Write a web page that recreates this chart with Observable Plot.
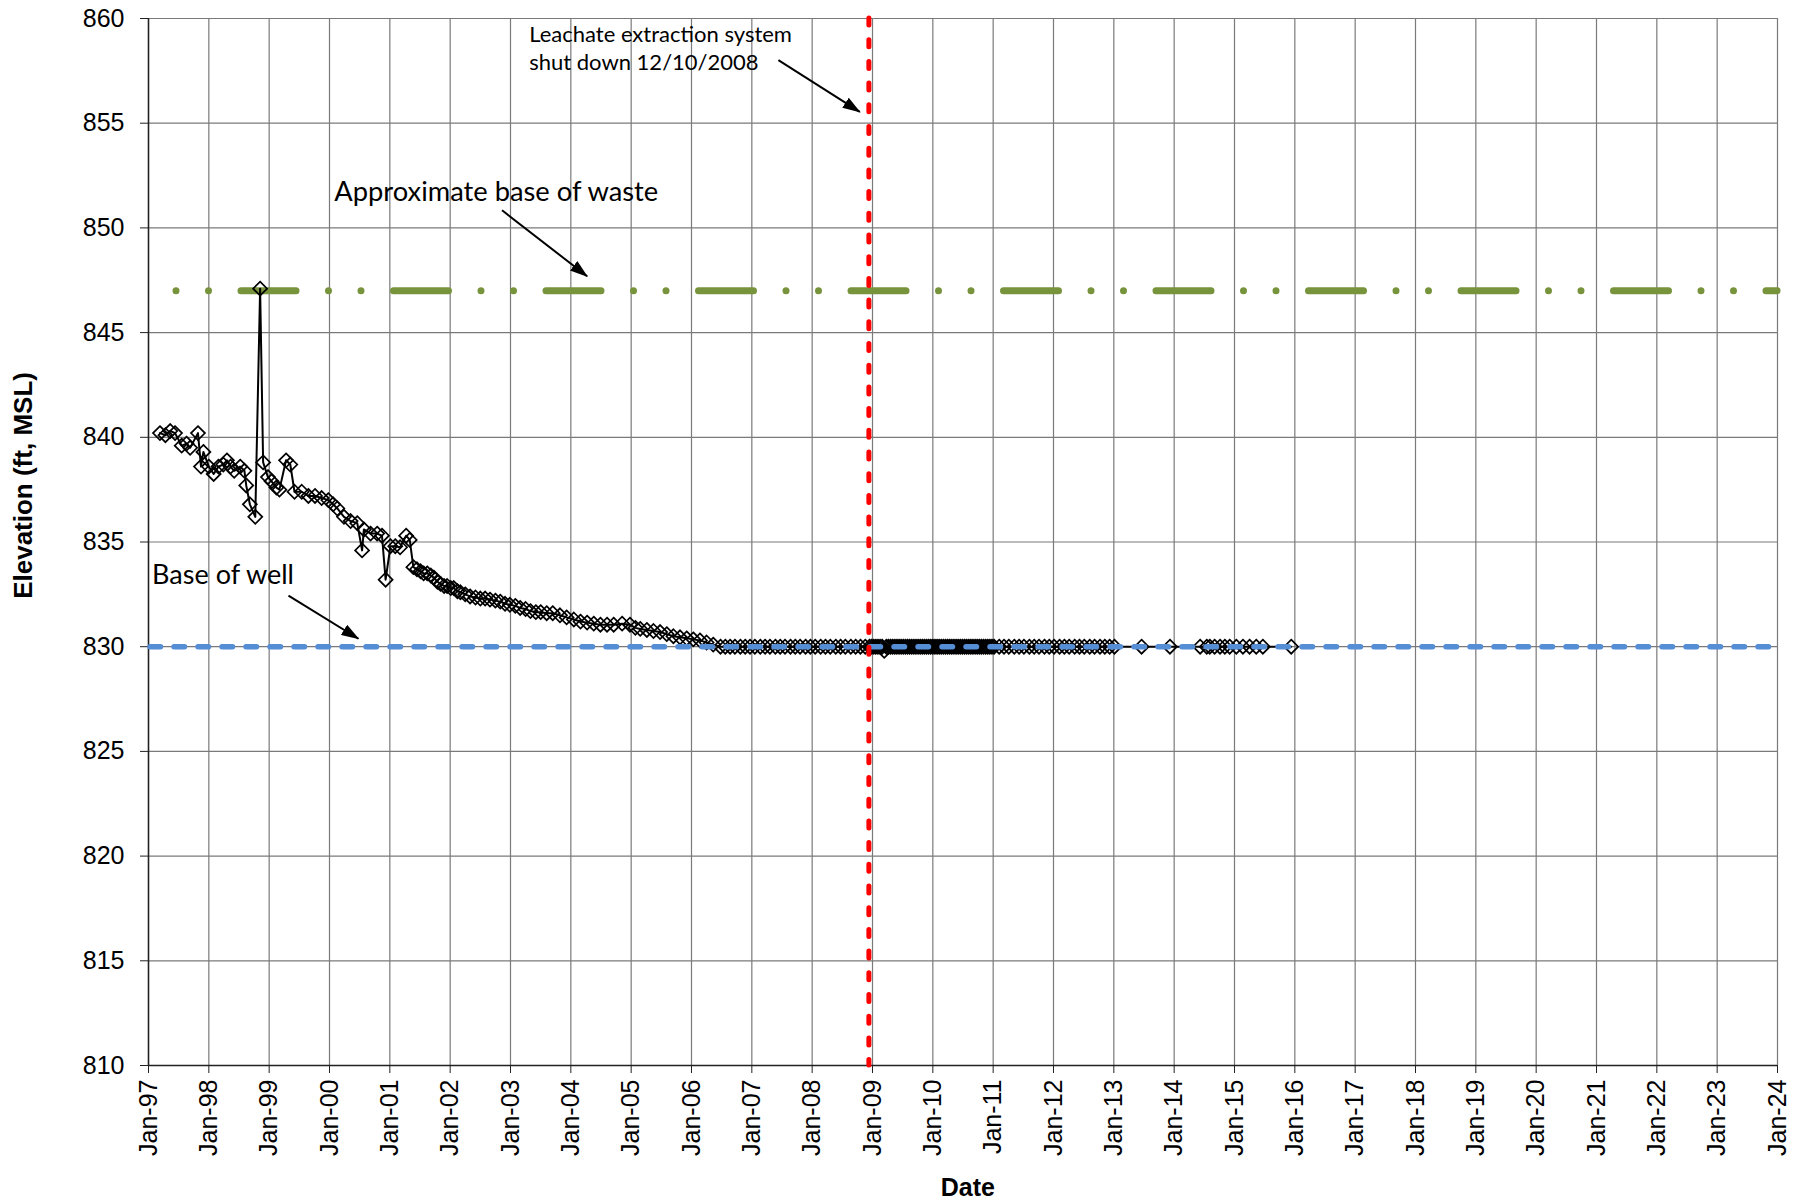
<!DOCTYPE html>
<html><head><meta charset="utf-8">
<script src="https://cdn.jsdelivr.net/npm/d3@7"></script>
<script src="https://cdn.jsdelivr.net/npm/@observablehq/plot@0.6"></script>
<style>html,body{margin:0;padding:0;background:#fff}svg{display:block}</style>
</head><body><div id="chart"></div>
<script>
// ---- Data (decimal years, elevation ft MSL) ----
const declineDates = [1997.19,1997.28,1997.36,1997.44,1997.55,1997.63,1997.69,1997.82,1997.87,1997.91,1998.00,1998.08,1998.16,1998.24,1998.30,1998.36,1998.42,1998.52,1998.59,1998.62,1998.68,1998.77,1998.85,1998.90,1998.98,1999.04,1999.12,1999.17,1999.28,1999.35,1999.42,1999.54,1999.65,1999.76,1999.87,1999.98,2000.06,2000.13,2000.24,2000.35,2000.46,2000.54,2000.57,2000.68,2000.79,2000.87,2000.93,2001.01,2001.09,2001.17,2001.27,2001.33,2001.39,2001.45,2001.51,2001.56,2001.62,2001.68,2001.73,2001.79,2001.84,2001.90,2001.95,2002.01,2002.06,2002.12,2002.17,2002.25,2002.33,2002.42,2002.50,2002.58,2002.66,2002.75,2002.83,2002.91,2002.99,2003.08,2003.16,2003.25,2003.33,2003.42,2003.50,2003.60,2003.70,2003.82,2003.93,2004.05,2004.16,2004.27,2004.38,2004.49,2004.60,2004.71,2004.85,2004.98,2005.07,2005.15,2005.26,2005.37,2005.48,2005.59,2005.70,2005.81,2005.92,2006.03,2006.14,2006.25,2006.36,2006.48];
const declineElev = [840.2,840.1,840.3,840.2,839.6,839.7,839.5,840.2,838.6,839.3,838.6,838.25,838.6,838.7,838.9,838.6,838.4,838.6,838.4,837.7,836.8,836.2,847.1,838.8,838.1,837.9,837.6,837.5,838.9,838.7,837.4,837.4,837.2,837.2,837.1,837.0,836.8,836.6,836.2,836.0,835.9,834.6,835.6,835.4,835.4,835.3,833.2,834.8,834.8,834.75,835.3,835.1,833.8,833.7,833.6,833.5,833.5,833.4,833.3,833.1,833.0,832.9,832.9,832.8,832.8,832.65,832.6,832.5,832.4,832.35,832.3,832.3,832.25,832.2,832.15,832.05,832.0,831.95,831.85,831.8,831.7,831.65,831.65,831.6,831.6,831.5,831.4,831.3,831.2,831.15,831.1,831.05,831.05,831.05,831.1,831.05,830.9,830.85,830.8,830.75,830.7,830.6,830.5,830.45,830.4,830.35,830.3,830.2,830.1,830.0];

const preShutdownDates = [2006.56,2006.64,2006.72,2006.81,2006.89,2006.97,2007.05,2007.14,2007.22,2007.30,2007.39,2007.47,2007.55,2007.64,2007.72,2007.80,2007.89,2007.97,2008.05,2008.14,2008.22,2008.30,2008.39,2008.47,2008.55,2008.64,2008.72,2008.80,2008.88];
const preShutdownElev = [830,830,830,830,830,830,830,830,830,830,830,830,830,830,830,830,830,830,830,830,830,830,830,830,830,830,830,830,830];

const denseDates = [2008.950,2008.985,2009.020,2009.055,2009.090,2009.125,2009.160,2009.195,2009.230,2009.265,2009.300,2009.335,2009.370,2009.405,2009.440,2009.475,2009.510,2009.545,2009.580,2009.615,2009.650,2009.685,2009.720,2009.755,2009.790,2009.825,2009.860,2009.895,2009.930,2009.965,2010.000,2010.035,2010.070,2010.105,2010.140,2010.175,2010.210,2010.245,2010.280,2010.315,2010.350,2010.385,2010.420,2010.455,2010.490,2010.525,2010.560,2010.595,2010.630,2010.665,2010.700,2010.735,2010.770,2010.805,2010.840,2010.875,2010.910,2010.945,2010.980,2011.015];
const denseElev = [830,830,830,830,830,830,830,829.8,830,830,830,830,830,830,830,830,830,830,830,830,830,830,830,830,830,830,830,830,830,830,830,830,830,830,830,830,830,830,830,830,830,830,830,830,830,830,830,830,830,830,830,830,830,830,830,830,830,830,830,830];

const lateDates = [2011.10,2011.18,2011.26,2011.35,2011.43,2011.51,2011.60,2011.68,2011.76,2011.85,2011.93,2012.01,2012.10,2012.18,2012.26,2012.35,2012.43,2012.51,2012.60,2012.68,2012.77,2012.85,2012.93,2013.01,2013.46,2013.93,2014.43,2014.54,2014.59,2014.67,2014.76,2014.84,2014.92,2015.03,2015.14,2015.25,2015.36,2015.47,2015.94];
const lateElev = [830,830,830,830,830,830,830,830,830,830,830,830,830,830,830,830,830,830,830,830,830,830,830,830,830,830,830,830,830,830,830,830,830,830,830,830,830,830,830];

const xTickYears = [1997,1998,1999,2000,2001,2002,2003,2004,2005,2006,2007,2008,2009,2010,2011,2012,2013,2014,2015,2016,2017,2018,2019,2020,2021,2022,2023,2024];
const yTicks = [810,815,820,825,830,835,840,845,850,855,860];

const baseOfWaste = 847;
const baseOfWell = 830;
const shutdownDate = 2008.94;

const annotationLabels = ["Leachate extraction system", "shut down 12/10/2008", "Approximate base of waste", "Base of well"];
const annotationX = [2003.31, 2003.31, 2000.08, 1997.06];
const annotationY = [859.21, 857.87, 851.68, 833.40];
const annotationSize = [22, 22, 27.3, 27];

const arrowX1 = [2007.44, 2002.86, 1999.32];
const arrowY1 = [858.01, 850.84, 832.44];
const arrowX2 = [2008.79, 2004.27, 2000.48];
const arrowY2 = [855.54, 847.69, 830.38];

// ---- Build tables ----
const allDates = [...declineDates, ...preShutdownDates, ...denseDates, ...lateDates];
const allElev = [...declineElev, ...preShutdownElev, ...denseElev, ...lateElev];
const series = allDates.map((d, i) => ({date: d, elev: allElev[i]}));
const labels = annotationLabels.map((t, i) => ({t, x: annotationX[i], y: annotationY[i], s: annotationSize[i]}));
const arrows = arrowX1.map((x1, i) => ({x1, y1: arrowY1[i], x2: arrowX2[i], y2: arrowY2[i]}));
const fmtYear = y => "Jan-" + String(y % 100).padStart(2, "0");

const calibriLike = "Lato, 'Open Sans', sans-serif";

const chart = Plot.plot({
  width: 1801, height: 1204,
  marginLeft: 148, marginRight: 24, marginTop: 18, marginBottom: 139,
  style: {fontFamily: "'Liberation Sans', Arial, sans-serif", fontSize: "25px", color: "#000", background: "#fff", overflow: "visible"},
  x: {type: "linear", domain: [1997, 2024]},
  y: {domain: [810, 860]},
  marks: [
    Plot.ruleX(xTickYears, {stroke: "#7a7a7a", strokeWidth: 1.2}),
    Plot.ruleY(yTicks, {stroke: "#7a7a7a", strokeWidth: 1.2}),
    Plot.ruleX([1997], {stroke: "#222", strokeWidth: 1.5}),
    Plot.ruleY([810], {stroke: "#222", strokeWidth: 1.5}),
    Plot.axisX({ticks: xTickYears, tickFormat: fmtYear, tickSize: 8, tickPadding: 6, tickRotate: -90, label: null, fontSize: 25, stroke: "#222"}),
    Plot.axisY({ticks: yTicks, tickSize: 8, tickPadding: 16, label: null, fontSize: 25, stroke: "#222"}),
    Plot.ruleY([baseOfWaste], {stroke: "#77933C", strokeWidth: 7, strokeDasharray: "55 32.5 0 32.5 0 32.5", strokeDashoffset: 59.5, strokeLinecap: "round"}),
    Plot.line(series, {x: "date", y: "elev", stroke: "#000", strokeWidth: 2}),
    Plot.dot(series, {x: "date", y: "elev", symbol: "diamond2", r: 6.3, stroke: "#000", strokeWidth: 1.7, fill: "none"}),
    Plot.ruleY([baseOfWell], {stroke: "#558ED5", strokeWidth: 5.5, strokeDasharray: "10.5 13.5", strokeDashoffset: 22, strokeLinecap: "round"}),
    Plot.ruleX([shutdownDate], {stroke: "#FF0000", strokeWidth: 5, strokeDasharray: "7 14.7", strokeLinecap: "round"}),
    Plot.link(arrows, {x1: "x1", y1: "y1", x2: "x2", y2: "y2", stroke: "#000", strokeWidth: 2, markerEnd: "arrow"}),
    Plot.text(labels, {x: "x", y: "y", text: "t", fontSize: "s", textAnchor: "start", lineAnchor: "middle", fontFamily: calibriLike, fill: "#000"}),
    Plot.text(["Elevation (ft, MSL)"], {x: 1994.93, y: 837.7, rotate: -90, textAnchor: "middle", lineAnchor: "middle", fontWeight: "bold", fontSize: 26}),
    Plot.text(["Date"], {x: 2010.58, y: 804.16, textAnchor: "middle", lineAnchor: "middle", fontWeight: "bold", fontSize: 25})
  ]
});

// Filled triangular arrowheads, as in the original
chart.querySelectorAll("marker").forEach(m => {
  m.setAttribute("viewBox", "-17 -6 18 12");
  m.setAttribute("markerUnits", "userSpaceOnUse");
  m.setAttribute("markerWidth", 18);
  m.setAttribute("markerHeight", 12);
  m.setAttribute("refX", 0);
  m.setAttribute("refY", 0);
  m.setAttribute("fill", "#000");
  m.setAttribute("stroke", "none");
  m.querySelectorAll("path").forEach(p => p.setAttribute("d", "M-17,-6L1,0L-17,6Z"));
});

document.getElementById("chart").appendChild(chart);
</script>
</body></html>
